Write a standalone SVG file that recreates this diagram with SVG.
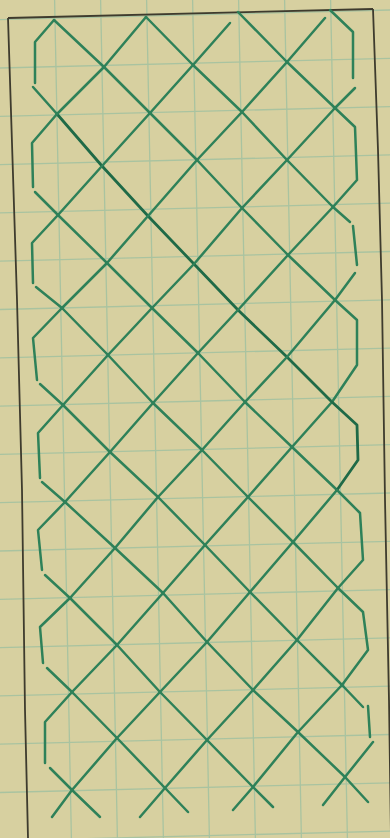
<svg xmlns="http://www.w3.org/2000/svg" width="390" height="838" viewBox="0 0 390 838">
<style>
.grid line{stroke:#a9c3a0;stroke-width:1.3;fill:none}
.border{stroke:#3e3b2e;stroke-width:1.8;fill:none;stroke-linejoin:round}
.lat path{stroke:#2e8159;stroke-width:2.5;fill:none;stroke-linecap:round;stroke-linejoin:round}
.lat path.dk{stroke:#1f6a47;stroke-width:2.8}
</style>
<rect x="0" y="0" width="390" height="838" fill="#d7d0a0"/>
<g id="grid" class="grid">
<line x1="54.6" y1="0" x2="71.4" y2="838"/>
<line x1="100.6" y1="0" x2="117.4" y2="838"/>
<line x1="146.6" y1="0" x2="163.4" y2="838"/>
<line x1="192.6" y1="0" x2="209.4" y2="838"/>
<line x1="238.6" y1="0" x2="255.4" y2="838"/>
<line x1="284.6" y1="0" x2="301.4" y2="838"/>
<line x1="330.6" y1="0" x2="347.4" y2="838"/>
<line x1="0" y1="19.7" x2="390" y2="10"/>
<line x1="0" y1="68" x2="390" y2="58.3"/>
<line x1="0" y1="116.3" x2="390" y2="106.6"/>
<line x1="0" y1="164.6" x2="390" y2="154.9"/>
<line x1="0" y1="212.9" x2="390" y2="203.2"/>
<line x1="0" y1="261.2" x2="390" y2="251.5"/>
<line x1="0" y1="309.5" x2="390" y2="299.8"/>
<line x1="0" y1="357.8" x2="390" y2="348.1"/>
<line x1="0" y1="406.1" x2="390" y2="396.4"/>
<line x1="0" y1="454.4" x2="390" y2="444.7"/>
<line x1="0" y1="502.7" x2="390" y2="493"/>
<line x1="0" y1="551" x2="390" y2="541.3"/>
<line x1="0" y1="599.3" x2="390" y2="589.6"/>
<line x1="0" y1="647.6" x2="390" y2="637.9"/>
<line x1="0" y1="695.9" x2="390" y2="686.2"/>
<line x1="0" y1="744.2" x2="390" y2="734.5"/>
<line x1="0" y1="792.5" x2="390" y2="782.8"/>
<line x1="0" y1="840.8" x2="390" y2="831.1"/>
</g>
<g id="frame">
<path class="border" d="M8,18 L373,9"/>
<path class="border" d="M8,18 L17,300 L22,490 L25,710 L28,838"/>
<path class="border" d="M373,9 L378,150 L382,300 L385,500 L389,700 L391,838"/>
</g>
<g id="lattice" class="lat">
<!-- down-right lines -->
<path d="M54,20 L104,67 L150,113 L197,160 L242,208 L288,255 L335,300"/>
<path d="M146,17 L193,65 L242,112 L287,160 L333,207"/>
<path d="M238,12 L287,62 L335,108"/>
<path class="dk" d="M57,114 L102,166 L148,216 L194,264 L238,310 L287,357 L332,402"/>
<path d="M58,215 L107,263 L152,308 L198,353 L245,402 L292,447 L337,490"/>
<path d="M62,308 L108,355 L153,403 L202,450 L248,497 L293,542 L338,588"/>
<path d="M63,405 L110,452 L158,497 L205,545 L250,592 L297,640 L342,685"/>
<path d="M65,502 L115,548 L163,593 L207,642 L253,690 L298,732 L345,777 L368,802"/>
<path d="M70,598 L117,645 L160,692 L207,740 L253,787 L273,807"/>
<path d="M72,692 L117,738 L165,788 L188,812"/>
<path d="M72,790 L100,817"/>
<!-- down-left lines -->
<path d="M146,17 L104,67 L57,114"/>
<path d="M230,23 L193,65 L150,113 L102,166 L58,215"/>
<path d="M325,18 L287,62 L242,112 L197,160 L148,216 L107,263 L62,308"/>
<path d="M335,108 L287,160 L242,208 L194,264 L152,308 L108,355 L63,405"/>
<path d="M333,207 L288,255 L238,310 L198,353 L153,403 L110,452 L65,502"/>
<path d="M335,300 L287,357 L245,402 L202,450 L158,497 L115,548 L70,598"/>
<path d="M332,402 L292,447 L248,497 L205,545 L163,593 L117,645 L72,692"/>
<path d="M337,490 L293,542 L250,592 L207,642 L160,692 L117,738 L72,790 L52,817"/>
<path d="M338,588 L297,640 L253,690 L207,740 L165,788 L140,817"/>
<path d="M342,685 L298,732 L253,787 L233,810"/>
<path d="M345,777 L323,805"/>
<!-- left bounces -->
<path d="M54,20 L35,42 L35,83"/><path d="M33,87 L57,114"/>
<path d="M57,114 L32,143 L33,187"/><path d="M35,192 L58,215"/>
<path d="M58,215 L32,243 L33,283"/><path d="M36,287 L62,308"/>
<path d="M62,308 L33,338 L37,380"/><path d="M40,384 L63,405"/>
<path d="M63,405 L38,433 L40,478"/><path d="M42,482 L65,502"/>
<path d="M65,502 L38,530 L42,570"/><path d="M45,575 L70,598"/>
<path d="M70,598 L40,627 L43,663"/><path d="M47,668 L72,692"/>
<path d="M72,692 L45,722 L45,763"/><path d="M50,768 L72,790"/>
<!-- right bounces -->
<path d="M330,10 L353,32 L353,78"/><path d="M355,88 L335,108"/>
<path d="M335,108 L355,127 L357,180 L333,207"/>
<path d="M333,207 L350,222"/><path d="M353,226 L357,265"/><path d="M355,273 L335,300"/>
<path d="M335,300 L357,320 L357,365 L332,402"/>
<path class="dk" d="M332,402 L357,425 L358,460 L337,490"/>
<path d="M337,490 L360,513 L363,560 L338,588"/>
<path d="M338,588 L363,612 L368,650 L342,685"/>
<path d="M342,685 L363,707"/><path d="M368,706 L370,737"/><path d="M373,742 L345,777"/>
</g>
</svg>
